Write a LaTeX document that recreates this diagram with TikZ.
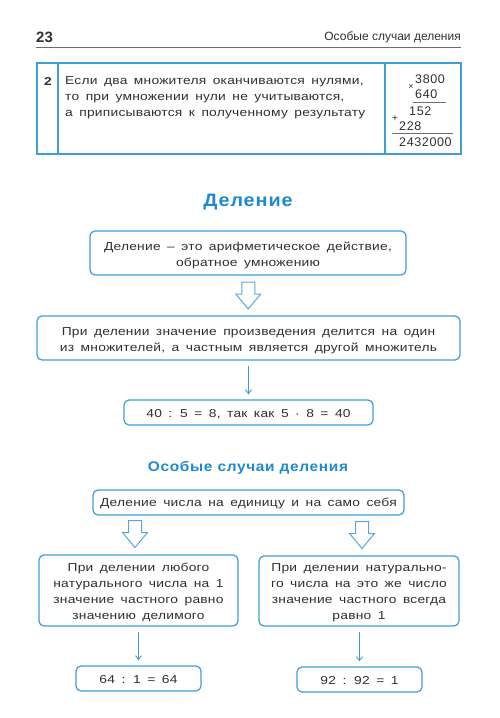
\documentclass[tikz,border=0pt]{standalone}
\usepackage{fontspec}
\setmainfont{Liberation Sans}
\newfontfamily\bodyf[FakeStretch=1.2,LetterSpace=2,WordSpace=1.6]{Liberation Sans}
\newfontfamily\numf[LetterSpace=5]{Liberation Sans}
\newfontfamily\ttlf[FakeStretch=1.1,LetterSpace=5]{Liberation Sans}
\usetikzlibrary{arrows.meta,calc}
\definecolor{bord}{HTML}{3E9DD6}
\definecolor{harrow}{HTML}{5AA8D8}
\definecolor{ttl}{HTML}{1F8AD2}
\definecolor{txt}{HTML}{303030}
\begin{document}
\begin{tikzpicture}[x=1pt,y=-1pt,
  box/.style={draw=bord,line width=1.2pt,rounded corners=5pt,inner sep=0pt},
  boxtext/.style={inner sep=0pt,text=txt,align=center,font=\bodyf\fontsize{11.5}{16}\selectfont},
  tbl/.style={draw=bord,line width=1.3pt},
  txtn/.style={text=txt,inner sep=0pt,font=\bodyf\fontsize{11.5}{16}\selectfont},
  numn/.style={text=txt,inner sep=0pt,font=\numf\fontsize{12.5}{14}\selectfont},
  thinarrow/.style={draw=bord,line width=0.9pt,-{Straight Barb[length=4pt,width=6pt]},shorten <=5pt,shorten >=5pt},
  hollow/.pic={\draw[harrow,line width=1pt,line join=miter] (-6.5,-13.5) -- (6.5,-13.5) -- (6.5,-1.5) -- (12.5,-1.5) -- (0,13.5) -- (-12.5,-1.5) -- (-6.5,-1.5) -- cycle;}
]
\useasboundingbox (0,0) rectangle (500,718);
\fill[white] (0,0) rectangle (500,718);
% header
\node[anchor=west,inner sep=0pt,text=txt,font=\fontsize{15}{16}\selectfont\bfseries] (pnum) at (36,37.5) {23};
\node[anchor=east,inner sep=0pt,text=txt,font=\fontsize{12}{14}\selectfont] (ptitle) at (461,37.5) {Особые случаи деления};
\draw[txt!70,line width=1pt] (36,47) -- (461,47);
% table
\draw[tbl] (37,63) rectangle (461,154);
\draw[tbl] (58,63) -- (58,154);
\draw[tbl] (385,63) -- (385,154);
\node[txtn,font=\bodyf\fontsize{11.5}{16}\selectfont\bfseries] (tnum) at (48,81) {2};
\node[txtn,anchor=west,align=left] (ttext) at (65,97.5) {Если два множителя оканчиваются нулями,\\то при умножении нули не учитываются,\\а приписываются к полученному результату};
\node[numn,anchor=west] (n1) at (415,79) {3800};
\node[numn,font=\fontsize{9}{10}\selectfont] (times) at (411,87) {×};
\node[numn,anchor=west] (n2) at (415,94) {640};
\draw[txt!70,line width=0.6pt] (413,102) -- (446,102);
\node[numn,anchor=west] (n3) at (409,111) {152};
\node[numn,font=\fontsize{10}{10}\selectfont] (plus) at (395,119) {+};
\node[numn,anchor=west] (n4) at (399,126) {228};
\draw[txt!70,line width=0.6pt] (392,133.5) -- (453,133.5);
\node[numn,anchor=west] (n5) at (399,142) {2432000};
% title 1
\node[inner sep=0pt,text=ttl,font=\ttlf\fontsize{18}{20}\selectfont\bfseries] (t1) at (248,202) {Деление};
\node[box,minimum width=316pt,minimum height=44pt] (b1) at (248,253) {};
\node[boxtext] (b1t) at ($(b1)+(0,2.5)$) {Деление – это арифметическое действие,\\обратное умножению};
\node[box,minimum width=423pt,minimum height=44pt] (b2) at (248.5,338) {};
\node[boxtext] (b2t) at ($(b2)+(0,2.5)$) {При делении значение произведения делится на один\\из множителей, а частным является другой множитель};
\node[box,minimum width=249pt,minimum height=25pt] (b3) at (248.5,412.5) {};
\node[boxtext] (b3t) at ($(b3)+(0,1.5)$) {40 : 5 = 8, так как 5 · 8 = 40};
\pic at ($(b1.south)!0.5!(b2.north)$) {hollow};
\draw[thinarrow] (b2) -- (b3);
% title 2
\node[inner sep=0pt,text=ttl,font=\ttlf\fontsize{14}{16}\selectfont\bfseries] (t2) at (248,468) {Особые случаи деления};
\node[box,minimum width=311pt,minimum height=25pt] (b4) at (248.5,502.5) {};
\node[boxtext] (b4t) at ($(b4)+(0,1)$) {Деление числа на единицу и на само себя};
\node[box,minimum width=199pt,minimum height=71pt] (b5) at (138.5,590.5) {};
\node[boxtext] (b5t) at ($(b5)+(0,1.5)$) {При делении любого\\натурального числа на 1\\значение частного равно\\значению делимого};
\node[box,minimum width=200pt,minimum height=70pt] (b6) at (359,591) {};
\node[boxtext] (b6t) at ($(b6)+(0,1.5)$) {При делении натурально-\\го числа на это же число\\значение частного всегда\\равно 1};
\node[box,minimum width=125pt,minimum height=25pt] (b7) at (138.5,678.5) {};
\node[boxtext] (b7t) at ($(b7)+(0,1)$) {64 : 1 = 64};
\node[box,minimum width=125pt,minimum height=25pt] (b8) at (359.5,679.5) {};
\node[boxtext] (b8t) at ($(b8)+(0,1)$) {92 : 92 = 1};
\pic at (135,534) {hollow};
\pic at (362,535) {hollow};
\draw[thinarrow] (b5.south -| b7.north) -- (b7.north);
\draw[thinarrow] (b6.south -| b8.north) -- (b8.north);
\end{tikzpicture}
\end{document}
